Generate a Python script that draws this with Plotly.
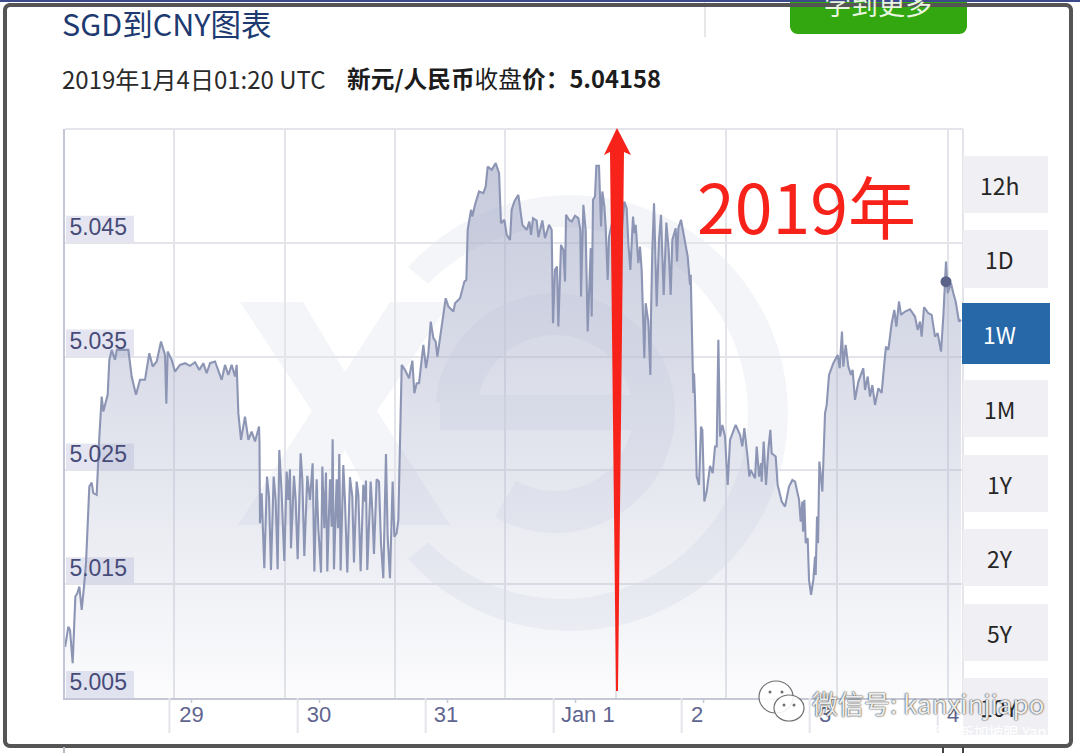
import math
import plotly.graph_objects as go

# ---------- data ----------
# hours since 28 Dec 00:00 UTC
hours = [0.3,0.91,1.22,1.72,2.22,2.59,2.97,3.41,3.84,4.22,4.84,5.28,5.59,6.22,6.72,7.16,7.47,8.28,8.59,9.03,9.66,10.0,12.16,12.78,13.59,14.34,15.28,16.09,16.72,17.47,18.28,19.03,19.28,19.53,20.28,20.9,21.84,22.78,23.72,24.66,25.47,26.22,26.84,27.47,28.41,29.03,29.66,30.28,30.91,31.53,32.16,32.47,32.78,33.28,34.03,34.66,35.28,35.91,36.66,36.75,
36.84,37.15,37.65,38.15,38.53,38.9,39.4,39.78,40.15,40.46,40.9,41.4,41.84,42.15,42.46,42.65,43.21,43.53,43.9,44.46,44.78,45.15,45.71,46.21,46.71,47.03,47.46,47.78,48.28,48.53,48.9,49.21,49.46,49.96,50.28,50.46,50.71,51.21,51.46,51.71,51.96,52.46,52.78,53.21,53.71,54.15,54.46,54.96,55.28,55.71,56.21,56.53,56.71,56.96,57.59,57.9,58.21,58.71,59.15,59.53,59.96,60.46,60.78,61.21,61.71,62.03,62.46,62.78,
63.28,63.41,64.03,64.78,65.41,65.78,66.22,66.66,67.47,67.97,68.41,68.85,69.35,69.78,70.1,70.91,71.66,72.16,73.1,73.41,74.35,75.16,75.53,75.78,76.41,76.66,77.16,77.91,78.72,79.16,79.53,80.28,81.03,81.66,82.03,82.66,83.1,83.72,84.03,84.53,85.28,86.03,86.85,87.35,87.66,88.03,88.72,89.03,89.78,90.28,91.03,91.53,91.78,
92.15,92.53,92.78,93.28,93.72,94.03,94.22,94.78,95.28,95.9,96.53,96.9,97.03,97.47,97.9,98.28,98.85,99.03,99.28,99.65,99.9,100.4,100.78,101.03,101.41,101.65,102.03,102.28,103.1,104.34,105.15,105.59,105.9,106.28,106.78,107.03,107.28,107.78,108.09,108.4,108.9,109.15,109.65,110.03,110.16,110.4,110.72,111.22,111.65,112.03,112.53,113.03,113.47,113.84,114.15,114.78,115.03,115.28,115.78,116.4,117.03,117.47,117.6,117.97,118.1,118.22,118.4,
118.72,119.15,119.53,119.78,120.15,120.59,121.22,121.72,122.15,122.47,122.78,123.09,123.53,124.03,124.53,124.97,126.03,126.84,127.28,127.65,128.28,128.59,128.84,129.66,129.97,130.41,130.78,130.9,131.28,131.72,132.15,132.53,132.78,133.53,133.9,134.66,135.28,136.03,136.66,137.16,137.91,138.22,138.53,138.66,138.9,139.16,139.53,139.78,140.16,140.59,140.9,141.03,141.28,141.47,141.72,142.28,142.78,
143.09,143.53,144.34,145.15,145.53,145.96,146.21,146.65,147.15,147.65,147.96,148.4,149.03,149.96,150.28,150.78,151.21,151.65,152.15,152.78,153.4,153.9,154.21,154.65,155.28,155.78,156.15,156.65,157.03,157.78,158.71,159.65,160.15,160.59,160.9,161.34,162.15,162.78,163.4,163.9,164.53,164.96,165.46,165.78,166.4,166.84,167.28,167.9,168.28]
rates = [5.0095,5.01127,5.01098,5.00805,5.01391,5.0142,5.01479,5.01274,5.01479,5.01684,5.02358,5.02393,5.023,5.02285,5.02797,5.03149,5.03017,5.03164,5.03471,5.03559,5.03471,5.03559,5.03559,5.03325,5.03164,5.03296,5.03296,5.0353,5.03413,5.03457,5.03632,5.03515,5.03085,5.03545,5.03471,5.03369,5.03427,5.03442,5.03419,5.03451,5.03383,5.03442,5.03354,5.03442,5.03457,5.03369,5.03296,5.03427,5.03339,5.03427,5.03325,5.03427,5.03003,5.02768,5.02973,5.02768,5.02841,5.02754,5.02885,5.02739,
5.02036,5.02299,5.0164,5.02446,5.0227,5.01625,5.02446,5.02241,5.01631,5.0268,5.02299,5.01705,5.0249,5.02241,5.0251,5.01816,5.02452,5.02241,5.01719,5.02651,5.02417,5.01748,5.02452,5.02241,5.02563,5.01611,5.02422,5.01992,5.01602,5.02534,5.01992,5.02481,5.01611,5.02422,5.02006,5.02774,5.01631,5.02422,5.01992,5.02645,5.0162,5.02548,5.02226,5.01602,5.0244,5.0227,5.0169,5.02402,5.02285,5.01614,5.02373,5.02226,5.0241,5.01625,5.02402,5.02153,5.01766,5.02422,5.02402,5.0186,5.01552,5.02645,5.01918,5.01552,5.02402,5.01918,5.01948,5.02065,
5.0312,5.03427,5.03383,5.0331,5.03465,5.03178,5.03266,5.03266,5.03603,5.03398,5.0353,5.03808,5.03662,5.03632,5.035,5.03793,5.04013,5.0394,5.03896,5.03969,5.04013,5.0416,5.04174,5.04614,5.0479,5.04731,5.04834,5.04951,5.04936,5.04995,5.0517,5.05141,5.052,5.05112,5.04672,5.04702,5.0457,5.04526,5.0479,5.04863,5.04921,5.04658,5.04614,5.04687,5.0457,5.04716,5.04696,5.04549,5.04696,5.04541,5.04658,5.04614,5.03793,
5.04262,5.04292,5.03764,5.04482,5.04438,5.0416,5.04746,5.04702,5.04687,5.04737,5.04716,5.04614,5.04028,5.04834,5.04614,5.0372,5.04453,5.03852,5.04878,5.04907,5.05176,5.05176,5.04643,5.04951,5.04819,5.04643,5.04174,5.04555,5.04731,5.04438,5.04863,5.04804,5.04497,5.04262,5.04731,5.04585,5.04658,5.04321,5.04467,5.04262,5.03486,5.03969,5.03808,5.03339,5.03881,5.04438,5.04848,5.0394,5.04526,5.04746,5.04042,5.04678,5.04438,5.04042,5.04526,5.04628,5.04336,5.04628,5.04702,5.04555,5.04379,5.0413,5.04218,5.03413,5.0318,5.03354,5.03134,
5.02446,5.02372,5.02885,5.02856,5.02226,5.02314,5.0254,5.02475,5.0271,5.0271,5.03647,5.02797,5.029,5.02797,5.02372,5.02768,5.029,5.02812,5.0271,5.02871,5.02607,5.02446,5.02504,5.02431,5.0271,5.02446,5.02563,5.024,5.02753,5.02372,5.0268,5.02856,5.02651,5.02622,5.02372,5.02226,5.02182,5.02358,5.02416,5.02402,5.02241,5.0205,5.02226,5.01962,5.02241,5.0186,5.01904,5.01538,5.01406,5.01538,5.01743,5.01581,5.02094,5.0186,5.02578,5.02314,5.03002,
5.03075,5.03339,5.03442,5.03515,5.03398,5.0372,5.03412,5.03603,5.03412,5.03339,5.03383,5.0312,5.0328,5.03398,5.03207,5.03325,5.03149,5.0325,5.03075,5.03222,5.0318,5.03442,5.03588,5.03559,5.03793,5.0391,5.03764,5.03984,5.03867,5.03896,5.03916,5.03852,5.03735,5.03808,5.03676,5.03934,5.03881,5.03867,5.03676,5.03705,5.03544,5.03852,5.04335,5.04057,5.04145,5.04057,5.03984,5.03808,5.03823]
last_hour = 165.46
last_rate = 5.04158

y_ticks = [5.005, 5.015, 5.025, 5.035, 5.045]
y_labels = ["5.005", "5.015", "5.025", "5.035", "5.045"]
x_label_hours = [24.0, 47.9, 71.7, 98.3, 118.8, 142.8, 166.8]
x_labels = ["29", "30", "31", "Jan 1", "2", "3", "4"]
grid_hours = [20.72, 41.53, 62.16, 82.78, 103.59, 124.22, 145.03, 165.84]
long_tick_hours = [19.86, 43.9, 67.9, 91.9, 115.9, 139.9, 163.9]
short_tick_hours = [24.0, 48.0, 72.0, 96.0, 120.0, 144.0, 168.0]
range_labels = ["12h", "1D", "1W", "1M", "1Y", "2Y", "5Y", "10Y"]
range_tops = [156, 230, 303, 380, 455, 529, 604, 678]
range_bottoms = [213, 288, 364, 437, 512, 586, 661, 735]

# ---------- page geometry helpers ----------
L, R, T, B = 65, 963, 129, 698
def X(p): return (p - L) / (R - L)
def Y(p): return (B - p) / (B - T)
def poly(points):
    return "M" + " L".join(f"{X(a):.5f},{Y(b):.5f}" for a, b in points) + " Z"
def rect(x0, y0, x1, y1, color, layer="above"):
    return dict(type="rect", xref="paper", yref="paper", x0=X(x0), x1=X(x1), y0=Y(y1), y1=Y(y0),
                fillcolor=color, line_width=0, layer=layer)

CJK = "Noto Sans CJK SC"
WM = "#f4f5f9"
shapes = []

# watermark logo (behind the area)
def arc(cx, cy, r, a0, a1, n=60):
    return [(cx + r * math.cos(math.radians(a0 + (a1 - a0) * i / n)),
             cy + r * math.sin(math.radians(a0 + (a1 - a0) * i / n))) for i in range(n + 1)]
ring = arc(570, 413, 218, -138, 138) + arc(562, 413, 186, 136, -136)
e_ring = arc(555, 413, 120, -175, 120) + arc(555, 413, 78, 120, -175)
e_bar = [(440, 395), (665, 395), (665, 430), (440, 430)]
x_logo = [(240, 302), (303, 302), (345, 372), (390, 302), (450, 302), (377, 411), (450, 525),
          (385, 525), (345, 450), (300, 525), (238, 525), (312, 411)]
for pts in (ring, e_ring, e_bar, x_logo):
    shapes.append(dict(type="path", xref="paper", yref="paper", path=poly(pts), fillcolor=WM,
                       line_width=0, layer="below"))

# y label backgrounds
for v in y_ticks:
    shapes.append(dict(type="rect", xref="paper", yref="y", x0=X(66), x1=X(134), y0=v, y1=v + 27 / 11375,
                       fillcolor="#e4e5f1", line_width=0, layer="between"))
# frame of plot
shapes.append(dict(type="line", xref="paper", yref="paper", x0=0, x1=1, y0=1, y1=1,
                   line=dict(color="#e4e5ea", width=2), layer="below"))
shapes.append(dict(type="line", xref="paper", yref="paper", x0=1, x1=1, y0=0, y1=1,
                   line=dict(color="#e4e5ea", width=2), layer="below"))
# x ticks
for h in long_tick_hours:
    shapes.append(dict(type="line", xref="x", yref="paper", x0=h, x1=h, y0=0, y1=Y(733),
                       line=dict(color="#e4e5ea", width=2)))
for h in short_tick_hours:
    shapes.append(dict(type="line", xref="x", yref="paper", x0=h, x1=h, y0=0, y1=Y(703),
                       line=dict(color="#c4c7d6", width=1.5)))
# range buttons
for lab, t, b in zip(range_labels, range_tops, range_bottoms):
    if lab == "1W":
        shapes.append(rect(962, t, 1050, b, "#2768a8"))
    else:
        shapes.append(rect(963, t, 1048, b, "#efeff4"))
# green button, separator
shapes.append(dict(type="path", xref="paper", yref="paper", layer="above", fillcolor="#33a70f", line_width=0,
                   path=poly([(790, 0)] + [(790, 26)] + arc(798, 26, 8, 180, 90, 8) + arc(959, 26, 8, 90, 0, 8) + [(967, 0)])))
shapes.append(dict(type="line", xref="paper", yref="paper", x0=X(705), x1=X(705), y0=Y(0), y1=Y(37),
                   line=dict(color="#cfcfd4", width=1)))
# red arrow
shapes.append(dict(type="path", xref="paper", yref="paper", layer="above", fillcolor="#f7231a", line_width=0,
                   path=poly([(616, 691), (618, 691), (624, 152), (631, 155), (617, 128), (604, 155), (610, 152)])))
# WeChat icon
for x0, x1, y0, y1 in ((759, 793, 681, 713), (774, 804, 695, 721)):
    shapes.append(dict(type="circle", xref="paper", yref="paper", x0=X(x0), x1=X(x1), y0=Y(y1), y1=Y(y0),
                       fillcolor="rgba(255,255,255,0.88)", line=dict(color="#6f6f6f", width=1.2)))
for cx, cy in ((770, 692), (782, 692), (784, 705), (794, 705)):
    shapes.append(dict(type="circle", xref="paper", yref="paper", x0=X(cx - 1.5), x1=X(cx + 1.5),
                       y0=Y(cy + 1.5), y1=Y(cy - 1.5), fillcolor="#6f6f6f", line_width=0))
# screenshot frame and stubs
shapes.append(dict(type="path", xref="paper", yref="paper", layer="above", fillcolor="rgba(0,0,0,0)",
                   line=dict(color="#555555", width=4),
                   path=poly([(5, 10)] + arc(10, 10, 5, 180, 270, 6) + arc(1066, 10, 5, 270, 360, 6)
                             + arc(1066, 741, 5, 0, 90, 6) + arc(10, 741, 5, 90, 180, 6))))
shapes.append(rect(0, 0, 1080, 2, "#3c4a8c"))
for px, col in ((64, "#bbbbc5"), (943, "#444444"), (963, "#444444")):
    shapes.append(dict(type="line", xref="paper", yref="paper", x0=X(px), x1=X(px), y0=Y(747), y1=Y(753),
                       line=dict(color=col, width=2)))

# ---------- traces ----------
fig = go.Figure()
fig.add_trace(go.Scatter(
    x=hours, y=rates, mode="lines", fill="tozeroy",
    line=dict(color="#8d95b5", width=2.1),
    fillgradient=dict(type="vertical", start=5.055, stop=5.005,
                      colorscale=[[0, "rgba(165,172,200,0.68)"], [1, "rgba(165,172,200,0.04)"]]),
    hoverinfo="skip", showlegend=False))
fig.add_trace(go.Scatter(x=[last_hour], y=[last_rate], mode="markers",
                         marker=dict(color="#5a6388", size=11), hoverinfo="skip", showlegend=False))

# ---------- text ----------
ann = []
def text(px, py, s, size, color, xanchor="left", family=CJK, **kw):
    ann.append(dict(xref="paper", yref="paper", x=X(px), y=Y(py), text=s, showarrow=False, xanchor=xanchor,
                    yanchor="middle", font=dict(family=family, size=size, color=color, **kw),
                    borderpad=0))
text(61, 23, "SGD到CNY图表", 30.5, "#1e3a70")
text(61, 78, "2019年1月4日01:20 UTC", 24, "#2a2a2a")
text(346, 78, "<b>新元/人民币</b>收盘<b>价：5.04158</b>", 23.7, "#1c1c1c")
text(878, 4, "学到更多", 27, "#e8f5e0", xanchor="center")
text(806, 204, "2019年", 68, "#f7231a", xanchor="center")
for lab, t, b in zip(range_labels, range_tops, range_bottoms):
    text(1000, (t + b) / 2, lab, 23, "#ffffff" if lab == "1W" else "#262626", xanchor="center")
text(1045, 702, "微信号: kanxinjiapo", 26, "rgba(255,255,255,0.92)", xanchor="right",
     shadow="0 0 1px #222222, 0 0 2px #444444")
text(1047, 731, "知乎 @新加坡眼 Yan", 15, "#ffffff", xanchor="right")

fig.update_layout(
    width=1080, height=753, autosize=False,
    margin=dict(l=L, r=1080 - R, t=T, b=753 - B, pad=0),
    paper_bgcolor="white", plot_bgcolor="rgba(0,0,0,0)",
    shapes=shapes, annotations=ann, showlegend=False,
    xaxis=dict(range=[0.28, 168.65], tickmode="array", tickvals=x_label_hours, ticktext=x_labels,
               ticks="", showgrid=False, zeroline=False, showline=True, linecolor="#c4c7d6", linewidth=2,
               ticklabelstandoff=-4,
               tickfont=dict(family="Liberation Sans", size=22, color="#5f6590"),
               minor=dict(tickmode="array", tickvals=grid_hours, showgrid=True, gridcolor="#e4e5ea",
                          gridwidth=2, ticks="")),
    yaxis=dict(range=[5.005, 5.055], tickmode="array", tickvals=y_ticks, ticktext=y_labels,
               ticklabelposition="inside top", ticks="", showgrid=True, gridcolor="#e4e5ea", gridwidth=2,
               zeroline=False, showline=True, linecolor="#c3c6d6", linewidth=2, ticklabelstandoff=5,
               tickfont=dict(family="Liberation Sans", size=23, color="#474b78")),
)

fig.write_html("out.html", config=dict(displayModeBar=False),
               post_script="document.body.style.margin='0';document.body.style.overflow='hidden';")
